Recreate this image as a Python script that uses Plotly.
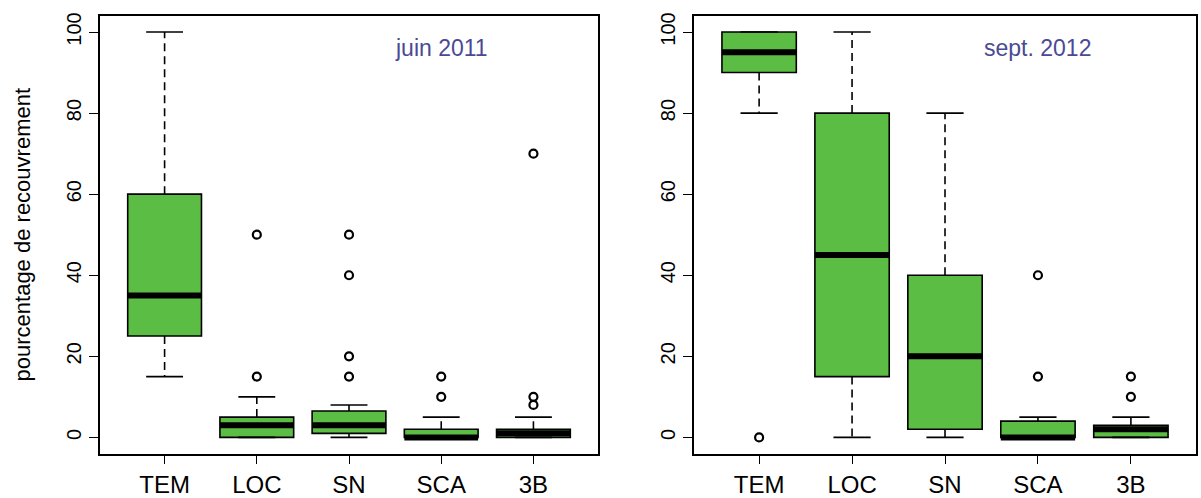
import plotly.graph_objects as go
from plotly.subplots import make_subplots

categories = ["TEM", "LOC", "SN", "SCA", "3B"]

# juin 2011
jun_low = [15, 0, 0, 0, 0]
jun_q1 = [25, 0, 1, 0, 0]
jun_median = [35, 3, 3, 0, 1]
jun_q3 = [60, 5, 6.5, 2, 2]
jun_high = [100, 10, 8, 5, 5]
jun_out_cat = ["LOC", "LOC", "SN", "SN", "SN", "SN", "SCA", "SCA", "3B", "3B", "3B"]
jun_out_val = [15, 50, 15, 20, 40, 50, 10, 15, 8, 10, 70]

# sept. 2012
sep_low = [80, 0, 0, 0, 0]
sep_q1 = [90, 15, 2, 0, 0]
sep_median = [95, 45, 20, 0, 2]
sep_q3 = [100, 80, 40, 4, 3]
sep_high = [100, 100, 80, 5, 5]
sep_out_cat = ["TEM", "SCA", "SCA", "3B", "3B"]
sep_out_val = [0, 15, 40, 10, 15]

panel_labels = ["juin 2011", "sept. 2012"]

GREEN = "#5cbd45"
FONT = "Liberation Sans, Arial, sans-serif"
BOXW = 0.8

fig = make_subplots(rows=1, cols=2, horizontal_spacing=0.08)


def add_panel(col, low, q1, med, q3, high, out_cat, out_val):
    pos = [categories.index(c) + 1 for c in categories]
    # boxes (no whiskers; drawn separately so they can be dashed)
    fig.add_trace(go.Box(
        x=pos, q1=q1, median=med, q3=q3, lowerfence=q1, upperfence=q3,
        width=BOXW, fillcolor=GREEN, line=dict(color="black", width=1.6),
        whiskerwidth=0, hoverinfo="skip", showlegend=False,
    ), row=1, col=col)

    # dashed whiskers
    wx, wy = [], []
    for p, lo, a, b, hi in zip(pos, low, q1, q3, high):
        wx += [p, p, None, p, p, None]
        wy += [b, hi, None, a, lo, None]
    fig.add_trace(go.Scatter(
        x=wx, y=wy, mode="lines", line=dict(color="black", width=1.6, dash="8px,5px"),
        hoverinfo="skip", showlegend=False,
    ), row=1, col=col)

    # staples
    sx, sy = [], []
    for p, lo, hi in zip(pos, low, high):
        sx += [p - BOXW / 4, p + BOXW / 4, None, p - BOXW / 4, p + BOXW / 4, None]
        sy += [hi, hi, None, lo, lo, None]
    fig.add_trace(go.Scatter(
        x=sx, y=sy, mode="lines", line=dict(color="black", width=1.6),
        hoverinfo="skip", showlegend=False,
    ), row=1, col=col)

    # thick medians
    mx, my = [], []
    for p, m in zip(pos, med):
        mx += [p - BOXW / 2, p + BOXW / 2, None]
        my += [m, m, None]
    fig.add_trace(go.Scatter(
        x=mx, y=my, mode="lines", line=dict(color="black", width=6),
        hoverinfo="skip", showlegend=False,
    ), row=1, col=col)

    # outliers
    fig.add_trace(go.Scatter(
        x=[categories.index(c) + 1 for c in out_cat], y=out_val, mode="markers",
        marker=dict(symbol="circle-open", size=8, color="black", line=dict(width=2.2)),
        showlegend=False,
    ), row=1, col=col)


add_panel(1, jun_low, jun_q1, jun_median, jun_q3, jun_high, jun_out_cat, jun_out_val)
add_panel(2, sep_low, sep_q1, sep_median, sep_q3, sep_high, sep_out_cat, sep_out_val)

axis_common = dict(showline=True, mirror=True, linecolor="black", linewidth=1.6,
                   ticks="outside", ticklen=9, tickwidth=1.2, tickcolor="black",
                   showgrid=False, zeroline=False)

for c in (1, 2):
    fig.update_xaxes(axis_common, range=[0.3, 5.7], tickvals=[1, 2, 3, 4, 5],
                     ticktext=categories, tickfont=dict(size=24, color="black", family=FONT),
                     row=1, col=c)
    fig.update_yaxes(axis_common, range=[-4, 104], tickvals=[0, 20, 40, 60, 80, 100],
                     tickangle=-90, ticklabelstandoff=0,
                     tickfont=dict(size=20, color="black", family=FONT),
                     row=1, col=c)

fig.update_xaxes(domain=[0.0833, 0.4979], row=1, col=1)
fig.update_xaxes(domain=[0.5779, 0.9958], row=1, col=2)
fig.update_yaxes(domain=[0.0823, 0.9739])
fig.update_yaxes(title=dict(text="pourcentage de recouvrement", font=dict(size=22, color="black", family=FONT),
                            standoff=27), row=1, col=1)

for i, xr in enumerate(["x", "x2"]):
    fig.add_annotation(text=panel_labels[i], x=4, y=96, xref=xr, yref="y" if i == 0 else "y2",
                       showarrow=False, font=dict(size=23, color="#4a4a94", family=FONT))

fig.update_layout(
    width=1201, height=498,
    margin=dict(l=0, r=0, t=0, b=0),
    plot_bgcolor="white", paper_bgcolor="white",
    boxgap=0,
)

fig.write_html("out.html", config={"displayModeBar": False},
               post_script="document.body.style.margin='0';")
